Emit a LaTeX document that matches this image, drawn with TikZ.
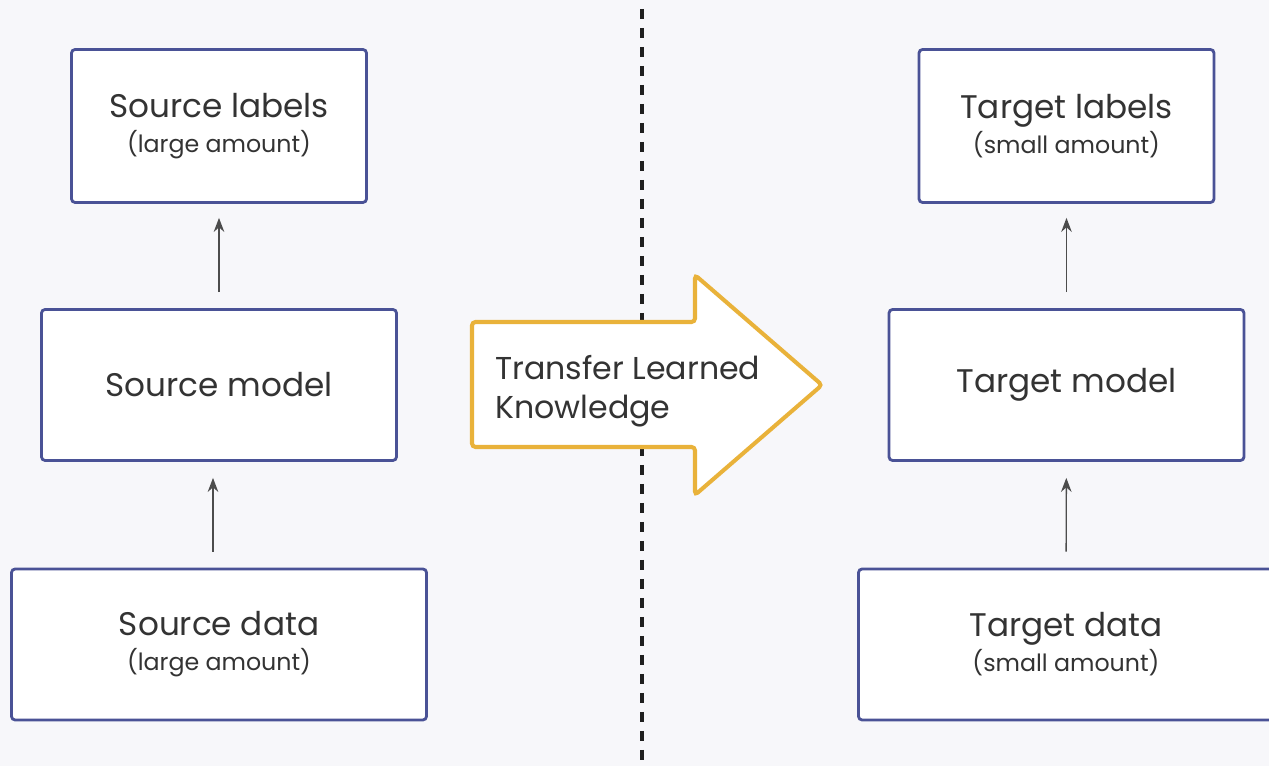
\documentclass[tikz,border=0pt]{standalone}
\usepackage{fontspec}
\setmainfont{Poppins}
\usetikzlibrary{arrows.meta}
\definecolor{boxblue}{HTML}{4A5296}
\definecolor{gold}{HTML}{E9B23A}
\definecolor{bgcol}{HTML}{F7F7FA}
\definecolor{ink}{HTML}{333333}
\begin{document}
\begin{tikzpicture}[x=0.02cm, y=0.02cm,
    block/.style={draw=boxblue, fill=white, line width=1.6pt, rounded corners=2pt,
      align=center, text=ink, inner sep=0pt, font=\fontsize{18.6}{21}\selectfont},
    small/.style={minimum width=5.9cm, minimum height=3.06cm},
    mid/.style={minimum width=7.1cm, minimum height=3.02cm},
    wide/.style={minimum width=8.3cm, minimum height=3.02cm},
    flow/.style={->, draw=black!70, line width=0.8pt, shorten <=0.32cm, shorten >=0.28cm},
    >={Stealth[length=8pt, width=6pt]}
]
  \fill[bgcol] (0,0) rectangle (1269,766);
  \useasboundingbox (0,0) rectangle (1269,766);
  % divider
  \coordinate (top) at (642,766);
  \coordinate (bot) at (642,0);
  \draw[black!88, line width=2.4pt, dash pattern=on 0.2cm off 0.18cm, dash phase=0.2cm] (top) -- (bot);
  % source side
  \node[block, small] (slabels) at (219,640)   {Source labels\\[-1pt]{\fontsize{13.5}{15}\selectfont (large amount)}};
  \node[block, mid]   (smodel)  at (219,381)   {Source model};
  \node[block, wide]  (sdata)   at (219,121.5) {Source data\\[-1pt]{\fontsize{13.5}{15}\selectfont (large amount)}};
  % target side
  \node[block, small] (tlabels) at (1066.5,640) {Target labels\\[-1pt]{\fontsize{13.5}{15}\selectfont (small amount)}};
  \node[block, mid]   (tmodel)  at (1066.5,381) {\strut Target model};
  \node[block, wide]  (tdata)   at (1066,121.5) {Target data\\[-1pt]{\fontsize{13.5}{15}\selectfont (small amount)}};
  \draw[flow] (smodel) -- (slabels);
  \draw[flow, shorten >=0.32cm] ([xshift=-0.12cm]sdata.north) -- ([xshift=-0.12cm]smodel.south);
  \draw[flow] (tmodel) -- (tlabels);
  \draw[flow, shorten >=0.32cm] (tdata) -- (tmodel);
  % transfer arrow
  \draw[gold, fill=white, line width=2.3pt, rounded corners=2pt]
    (472,444) -- (695,444) -- (695,491) -- (822,381) -- (695,271) -- (695,319) -- (472,319) -- cycle;
  \node[anchor=west, align=left, inner sep=0pt, text=ink, font=\fontsize{18}{22.5}\selectfont]
    (transfer) at (495,375) {Transfer Learned\\Knowledge};
\end{tikzpicture}
\end{document}
